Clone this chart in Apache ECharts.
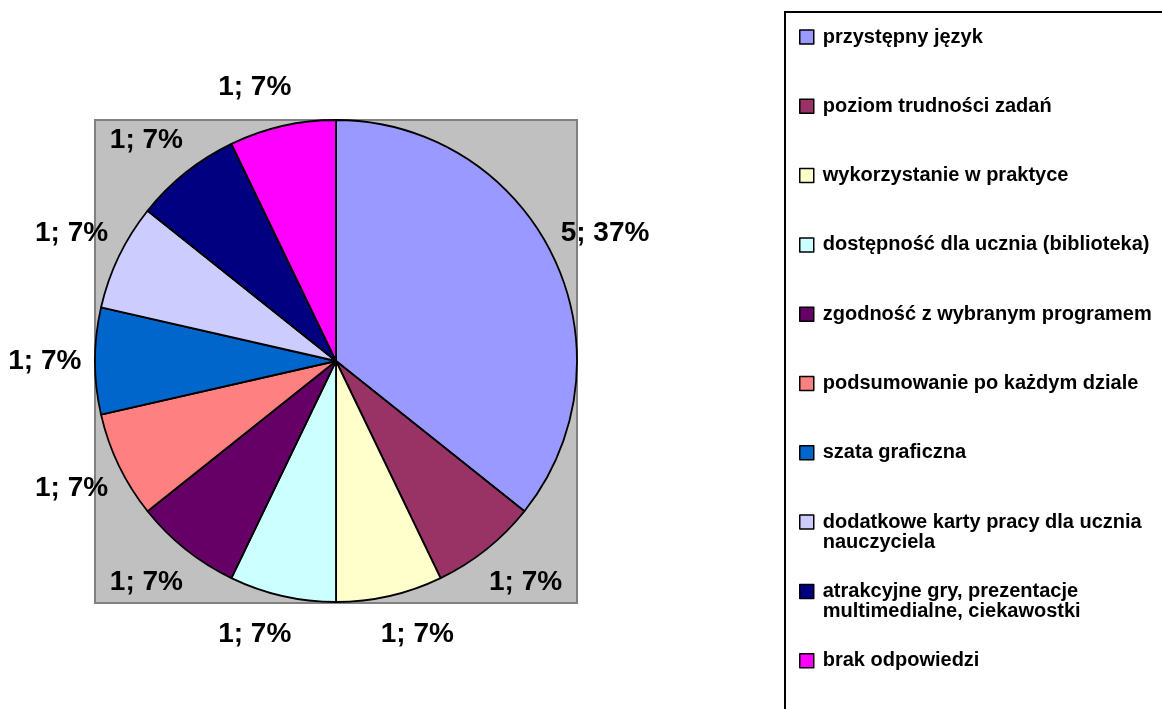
<!DOCTYPE html>
<html>
<head>
<meta charset="utf-8">
<script src="https://cdn.jsdelivr.net/npm/echarts@6/dist/echarts.min.js"></script>
<style>
  html, body { margin: 0; padding: 0; background: #fff; }
  #chart { width: 1162px; height: 709px; }
</style>
</head>
<body>
<div id="chart"></div>
<script>
// kategorie (z podziałem wiersza jak w legendzie)
var categories = [
  'przystępny język',
  'poziom trudności zadań',
  'wykorzystanie w praktyce',
  'dostępność dla ucznia (biblioteka)',
  'zgodność z wybranym programem',
  'podsumowanie po każdym dziale',
  'szata graficzna',
  'dodatkowe karty pracy dla ucznia\nnauczyciela',
  'atrakcyjne gry, prezentacje\nmultimedialne, ciekawostki',
  'brak odpowiedzi'
];
// liczba odpowiedzi
var values = [5, 1, 1, 1, 1, 1, 1, 1, 1, 1];
// procenty jak na etykietach
var percentLabels = ['37%', '7%', '7%', '7%', '7%', '7%', '7%', '7%', '7%', '7%'];
var colors = ['#9999FF', '#993366', '#FFFFCC', '#CCFFFF', '#660066',
              '#FF8080', '#0066CC', '#CCCCFF', '#000080', '#FF00FF'];

var FONT = '"Liberation Sans", Arial, sans-serif';
var cx = 336, cy = 361, r = 241;

var total = 0;
for (var i = 0; i < values.length; i++) total += values[i];

// kąt środka wycinka, od godziny 12 zgodnie z ruchem wskazówek
function midAngle(idx) {
  var before = 0;
  for (var j = 0; j < idx; j++) before += values[j];
  return (before + values[idx] / 2) / total * Math.PI * 2;
}

function sgn(v) {
  return Math.abs(v) < 0.01 ? 0 : (v > 0 ? 1 : -1);
}

var chart = echarts.init(document.getElementById('chart'), null, { renderer: 'canvas' });

// osobna legenda dla każdej pozycji - równe odstępy jak w Excelu
var legends = [];
for (var k = 0; k < categories.length; k++) {
  var twoLines = categories[k].indexOf('\n') >= 0;
  legends.push({
    orient: 'vertical',
    left: 799,
    top: 30 + k * 69.3 - 3,
    padding: 0,
    itemWidth: 14,
    itemHeight: twoLines ? 34 : 14,
    icon: twoLines ? 'path://M0,0L14,0L14,14L0,14Z M0,34L0,34' : 'rect',
    selectedMode: false,
    itemStyle: { borderColor: '#000', borderWidth: 1.5 },
    textStyle: {
      fontFamily: FONT,
      fontWeight: 'bold',
      fontSize: 20,
      lineHeight: 20,
      color: '#000',
      padding: [0, 0, 0, 4]
    },
    data: [categories[k]]
  });
}

var data = [];
for (var n = 0; n < categories.length; n++) {
  data.push({ name: categories[n], value: values[n], itemStyle: { color: colors[n] } });
}

chart.setOption({
  animation: false,
  backgroundColor: '#fff',
  graphic: [
    {
      type: 'rect', z: -10,
      shape: { x: 95, y: 120, width: 482, height: 483 },
      style: { fill: '#C0C0C0', stroke: '#808080', lineWidth: 2 }
    },
    {
      type: 'rect', z: -10,
      shape: { x: 785, y: 12, width: 420, height: 740 },
      style: { fill: '#fff', stroke: '#000', lineWidth: 2 }
    }
  ],
  legend: legends,
  series: [{
    type: 'pie',
    center: [cx, cy],
    radius: r,
    startAngle: 90,
    clockwise: true,
    avoidLabelOverlap: false,
    silent: true,
    itemStyle: { borderColor: '#000', borderWidth: 1.8 },
    label: {
      show: true,
      position: 'outside',
      fontFamily: FONT,
      fontWeight: 'bold',
      fontSize: 28,
      color: '#000',
      formatter: function (p) {
        return values[p.dataIndex] + '; ' + percentLabels[p.dataIndex];
      }
    },
    labelLine: { show: false },
    // etykiety na zewnątrz, odsunięte jak w Excelu
    labelLayout: function (params) {
      var a = midAngle(params.dataIndex);
      var dx = Math.sin(a), dy = -Math.cos(a);
      var w = params.labelRect.width, h = params.labelRect.height;
      var d = r + 29;
      return {
        x: cx + dx * d + sgn(dx) * 0.29 * w,
        y: cy + dy * d + sgn(dy) * 0.36 * h,
        align: 'center',
        verticalAlign: 'middle'
      };
    },
    emphasis: { disabled: true },
    data: data
  }]
});
</script>
</body>
</html>
